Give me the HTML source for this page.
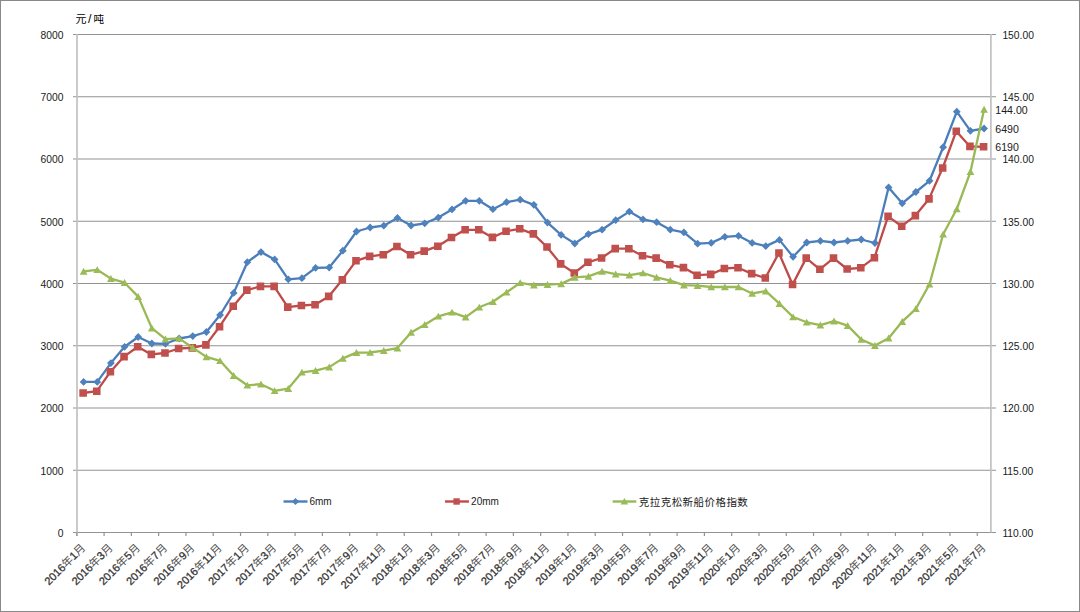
<!DOCTYPE html>
<html><head><meta charset="utf-8"><title>chart</title>
<style>
html,body{margin:0;padding:0;background:#fff;}
body{width:1080px;height:612px;overflow:hidden;}
svg{display:block;}
text{font-family:"Liberation Sans", "Noto Sans CJK SC", sans-serif;}
</style></head><body>
<svg width="1080" height="612" viewBox="0 0 1080 612">
<rect x="0" y="0" width="1080" height="612" fill="#fff"/>

<rect x="0.5" y="0.5" width="1079" height="611" fill="none" stroke="#898989" stroke-width="1"/>
<path d="M73 34.5H996 M73 96.75H996 M73 159H996 M73 221.25H996 M73 283.5H996 M73 345.75H996 M73 408H996 M73 470.25H996 M73 532.5H996" stroke="#939393" stroke-width="1.2" fill="none"/>
<path d="M77 34V536 M990.9 34V532.5" stroke="#c2c2c2" stroke-width="1.7" fill="none"/>
<path d="M76.8 532V536 M104.09 532V536 M131.37 532V536 M158.66 532V536 M185.95 532V536 M213.23 532V536 M240.52 532V536 M267.81 532V536 M295.09 532V536 M322.38 532V536 M349.67 532V536 M376.95 532V536 M404.24 532V536 M431.53 532V536 M458.81 532V536 M486.1 532V536 M513.39 532V536 M540.67 532V536 M567.96 532V536 M595.24 532V536 M622.53 532V536 M649.82 532V536 M677.1 532V536 M704.39 532V536 M731.68 532V536 M758.96 532V536 M786.25 532V536 M813.54 532V536 M840.82 532V536 M868.11 532V536 M895.4 532V536 M922.68 532V536 M949.97 532V536 M977.26 532V536" stroke="#939393" stroke-width="1.2" fill="none"/>
<text x="63.5" y="536.8" font-size="10.3" fill="#1a1a1a" text-anchor="end">0</text>
<text x="63.5" y="474.55" font-size="10.3" fill="#1a1a1a" text-anchor="end">1000</text>
<text x="63.5" y="412.3" font-size="10.3" fill="#1a1a1a" text-anchor="end">2000</text>
<text x="63.5" y="350.05" font-size="10.3" fill="#1a1a1a" text-anchor="end">3000</text>
<text x="63.5" y="287.8" font-size="10.3" fill="#1a1a1a" text-anchor="end">4000</text>
<text x="63.5" y="225.55" font-size="10.3" fill="#1a1a1a" text-anchor="end">5000</text>
<text x="63.5" y="163.3" font-size="10.3" fill="#1a1a1a" text-anchor="end">6000</text>
<text x="63.5" y="101.05" font-size="10.3" fill="#1a1a1a" text-anchor="end">7000</text>
<text x="63.5" y="38.8" font-size="10.3" fill="#1a1a1a" text-anchor="end">8000</text>
<text x="1002.4" y="536.8" font-size="10.3" fill="#1a1a1a">110.00</text>
<text x="1002.4" y="474.55" font-size="10.3" fill="#1a1a1a">115.00</text>
<text x="1002.4" y="412.3" font-size="10.3" fill="#1a1a1a">120.00</text>
<text x="1002.4" y="350.05" font-size="10.3" fill="#1a1a1a">125.00</text>
<text x="1002.4" y="287.8" font-size="10.3" fill="#1a1a1a">130.00</text>
<text x="1002.4" y="225.55" font-size="10.3" fill="#1a1a1a">135.00</text>
<text x="1002.4" y="163.3" font-size="10.3" fill="#1a1a1a">140.00</text>
<text x="1002.4" y="101.05" font-size="10.3" fill="#1a1a1a">145.00</text>
<text x="1002.4" y="38.8" font-size="10.3" fill="#1a1a1a">150.00</text>
<text y="22.5" font-size="11" fill="#000" style="font-family:'Noto Sans CJK SC', 'WenQuanYi Zen Hei', sans-serif"><tspan x="75.6">元</tspan><tspan x="87.9" style="font-family:'Liberation Sans',sans-serif" font-size="12.5">/</tspan><tspan x="93.4" font-size="10.6">吨</tspan></text>
<text x="86.12" y="548.5" font-size="11" fill="#2e2e2e" stroke="#3a3a3a" stroke-width="0.3" text-anchor="end" transform="rotate(-45 86.12 548.5)">2016<tspan stroke="none" fill="#505050">年</tspan>1<tspan stroke="none" fill="#505050">月</tspan></text>
<text x="113.41" y="548.5" font-size="11" fill="#2e2e2e" stroke="#3a3a3a" stroke-width="0.3" text-anchor="end" transform="rotate(-45 113.41 548.5)">2016<tspan stroke="none" fill="#505050">年</tspan>3<tspan stroke="none" fill="#505050">月</tspan></text>
<text x="140.69" y="548.5" font-size="11" fill="#2e2e2e" stroke="#3a3a3a" stroke-width="0.3" text-anchor="end" transform="rotate(-45 140.69 548.5)">2016<tspan stroke="none" fill="#505050">年</tspan>5<tspan stroke="none" fill="#505050">月</tspan></text>
<text x="167.98" y="548.5" font-size="11" fill="#2e2e2e" stroke="#3a3a3a" stroke-width="0.3" text-anchor="end" transform="rotate(-45 167.98 548.5)">2016<tspan stroke="none" fill="#505050">年</tspan>7<tspan stroke="none" fill="#505050">月</tspan></text>
<text x="195.27" y="548.5" font-size="11" fill="#2e2e2e" stroke="#3a3a3a" stroke-width="0.3" text-anchor="end" transform="rotate(-45 195.27 548.5)">2016<tspan stroke="none" fill="#505050">年</tspan>9<tspan stroke="none" fill="#505050">月</tspan></text>
<text x="222.55" y="548.5" font-size="11" fill="#2e2e2e" stroke="#3a3a3a" stroke-width="0.3" text-anchor="end" transform="rotate(-45 222.55 548.5)">2016<tspan stroke="none" fill="#505050">年</tspan>11<tspan stroke="none" fill="#505050">月</tspan></text>
<text x="249.84" y="548.5" font-size="11" fill="#2e2e2e" stroke="#3a3a3a" stroke-width="0.3" text-anchor="end" transform="rotate(-45 249.84 548.5)">2017<tspan stroke="none" fill="#505050">年</tspan>1<tspan stroke="none" fill="#505050">月</tspan></text>
<text x="277.13" y="548.5" font-size="11" fill="#2e2e2e" stroke="#3a3a3a" stroke-width="0.3" text-anchor="end" transform="rotate(-45 277.13 548.5)">2017<tspan stroke="none" fill="#505050">年</tspan>3<tspan stroke="none" fill="#505050">月</tspan></text>
<text x="304.41" y="548.5" font-size="11" fill="#2e2e2e" stroke="#3a3a3a" stroke-width="0.3" text-anchor="end" transform="rotate(-45 304.41 548.5)">2017<tspan stroke="none" fill="#505050">年</tspan>5<tspan stroke="none" fill="#505050">月</tspan></text>
<text x="331.7" y="548.5" font-size="11" fill="#2e2e2e" stroke="#3a3a3a" stroke-width="0.3" text-anchor="end" transform="rotate(-45 331.7 548.5)">2017<tspan stroke="none" fill="#505050">年</tspan>7<tspan stroke="none" fill="#505050">月</tspan></text>
<text x="358.99" y="548.5" font-size="11" fill="#2e2e2e" stroke="#3a3a3a" stroke-width="0.3" text-anchor="end" transform="rotate(-45 358.99 548.5)">2017<tspan stroke="none" fill="#505050">年</tspan>9<tspan stroke="none" fill="#505050">月</tspan></text>
<text x="386.27" y="548.5" font-size="11" fill="#2e2e2e" stroke="#3a3a3a" stroke-width="0.3" text-anchor="end" transform="rotate(-45 386.27 548.5)">2017<tspan stroke="none" fill="#505050">年</tspan>11<tspan stroke="none" fill="#505050">月</tspan></text>
<text x="413.56" y="548.5" font-size="11" fill="#2e2e2e" stroke="#3a3a3a" stroke-width="0.3" text-anchor="end" transform="rotate(-45 413.56 548.5)">2018<tspan stroke="none" fill="#505050">年</tspan>1<tspan stroke="none" fill="#505050">月</tspan></text>
<text x="440.85" y="548.5" font-size="11" fill="#2e2e2e" stroke="#3a3a3a" stroke-width="0.3" text-anchor="end" transform="rotate(-45 440.85 548.5)">2018<tspan stroke="none" fill="#505050">年</tspan>3<tspan stroke="none" fill="#505050">月</tspan></text>
<text x="468.13" y="548.5" font-size="11" fill="#2e2e2e" stroke="#3a3a3a" stroke-width="0.3" text-anchor="end" transform="rotate(-45 468.13 548.5)">2018<tspan stroke="none" fill="#505050">年</tspan>5<tspan stroke="none" fill="#505050">月</tspan></text>
<text x="495.42" y="548.5" font-size="11" fill="#2e2e2e" stroke="#3a3a3a" stroke-width="0.3" text-anchor="end" transform="rotate(-45 495.42 548.5)">2018<tspan stroke="none" fill="#505050">年</tspan>7<tspan stroke="none" fill="#505050">月</tspan></text>
<text x="522.71" y="548.5" font-size="11" fill="#2e2e2e" stroke="#3a3a3a" stroke-width="0.3" text-anchor="end" transform="rotate(-45 522.71 548.5)">2018<tspan stroke="none" fill="#505050">年</tspan>9<tspan stroke="none" fill="#505050">月</tspan></text>
<text x="549.99" y="548.5" font-size="11" fill="#2e2e2e" stroke="#3a3a3a" stroke-width="0.3" text-anchor="end" transform="rotate(-45 549.99 548.5)">2018<tspan stroke="none" fill="#505050">年</tspan>11<tspan stroke="none" fill="#505050">月</tspan></text>
<text x="577.28" y="548.5" font-size="11" fill="#2e2e2e" stroke="#3a3a3a" stroke-width="0.3" text-anchor="end" transform="rotate(-45 577.28 548.5)">2019<tspan stroke="none" fill="#505050">年</tspan>1<tspan stroke="none" fill="#505050">月</tspan></text>
<text x="604.57" y="548.5" font-size="11" fill="#2e2e2e" stroke="#3a3a3a" stroke-width="0.3" text-anchor="end" transform="rotate(-45 604.57 548.5)">2019<tspan stroke="none" fill="#505050">年</tspan>3<tspan stroke="none" fill="#505050">月</tspan></text>
<text x="631.85" y="548.5" font-size="11" fill="#2e2e2e" stroke="#3a3a3a" stroke-width="0.3" text-anchor="end" transform="rotate(-45 631.85 548.5)">2019<tspan stroke="none" fill="#505050">年</tspan>5<tspan stroke="none" fill="#505050">月</tspan></text>
<text x="659.14" y="548.5" font-size="11" fill="#2e2e2e" stroke="#3a3a3a" stroke-width="0.3" text-anchor="end" transform="rotate(-45 659.14 548.5)">2019<tspan stroke="none" fill="#505050">年</tspan>7<tspan stroke="none" fill="#505050">月</tspan></text>
<text x="686.43" y="548.5" font-size="11" fill="#2e2e2e" stroke="#3a3a3a" stroke-width="0.3" text-anchor="end" transform="rotate(-45 686.43 548.5)">2019<tspan stroke="none" fill="#505050">年</tspan>9<tspan stroke="none" fill="#505050">月</tspan></text>
<text x="713.71" y="548.5" font-size="11" fill="#2e2e2e" stroke="#3a3a3a" stroke-width="0.3" text-anchor="end" transform="rotate(-45 713.71 548.5)">2019<tspan stroke="none" fill="#505050">年</tspan>11<tspan stroke="none" fill="#505050">月</tspan></text>
<text x="741" y="548.5" font-size="11" fill="#2e2e2e" stroke="#3a3a3a" stroke-width="0.3" text-anchor="end" transform="rotate(-45 741 548.5)">2020<tspan stroke="none" fill="#505050">年</tspan>1<tspan stroke="none" fill="#505050">月</tspan></text>
<text x="768.29" y="548.5" font-size="11" fill="#2e2e2e" stroke="#3a3a3a" stroke-width="0.3" text-anchor="end" transform="rotate(-45 768.29 548.5)">2020<tspan stroke="none" fill="#505050">年</tspan>3<tspan stroke="none" fill="#505050">月</tspan></text>
<text x="795.57" y="548.5" font-size="11" fill="#2e2e2e" stroke="#3a3a3a" stroke-width="0.3" text-anchor="end" transform="rotate(-45 795.57 548.5)">2020<tspan stroke="none" fill="#505050">年</tspan>5<tspan stroke="none" fill="#505050">月</tspan></text>
<text x="822.86" y="548.5" font-size="11" fill="#2e2e2e" stroke="#3a3a3a" stroke-width="0.3" text-anchor="end" transform="rotate(-45 822.86 548.5)">2020<tspan stroke="none" fill="#505050">年</tspan>7<tspan stroke="none" fill="#505050">月</tspan></text>
<text x="850.15" y="548.5" font-size="11" fill="#2e2e2e" stroke="#3a3a3a" stroke-width="0.3" text-anchor="end" transform="rotate(-45 850.15 548.5)">2020<tspan stroke="none" fill="#505050">年</tspan>9<tspan stroke="none" fill="#505050">月</tspan></text>
<text x="877.43" y="548.5" font-size="11" fill="#2e2e2e" stroke="#3a3a3a" stroke-width="0.3" text-anchor="end" transform="rotate(-45 877.43 548.5)">2020<tspan stroke="none" fill="#505050">年</tspan>11<tspan stroke="none" fill="#505050">月</tspan></text>
<text x="904.72" y="548.5" font-size="11" fill="#2e2e2e" stroke="#3a3a3a" stroke-width="0.3" text-anchor="end" transform="rotate(-45 904.72 548.5)">2021<tspan stroke="none" fill="#505050">年</tspan>1<tspan stroke="none" fill="#505050">月</tspan></text>
<text x="932.01" y="548.5" font-size="11" fill="#2e2e2e" stroke="#3a3a3a" stroke-width="0.3" text-anchor="end" transform="rotate(-45 932.01 548.5)">2021<tspan stroke="none" fill="#505050">年</tspan>3<tspan stroke="none" fill="#505050">月</tspan></text>
<text x="959.29" y="548.5" font-size="11" fill="#2e2e2e" stroke="#3a3a3a" stroke-width="0.3" text-anchor="end" transform="rotate(-45 959.29 548.5)">2021<tspan stroke="none" fill="#505050">年</tspan>5<tspan stroke="none" fill="#505050">月</tspan></text>
<text x="986.58" y="548.5" font-size="11" fill="#2e2e2e" stroke="#3a3a3a" stroke-width="0.3" text-anchor="end" transform="rotate(-45 986.58 548.5)">2021<tspan stroke="none" fill="#505050">年</tspan>7<tspan stroke="none" fill="#505050">月</tspan></text>
<path d="M83.62 381.9 L97.26 381.9 L110.91 363.1 L124.55 346.8 L138.19 337 L151.84 343.5 L165.48 343.8 L179.12 338.5 L192.77 336.1 L206.41 332 L220.05 315 L233.7 292.9 L247.34 262.2 L260.98 252.1 L274.63 259.4 L288.27 279.3 L301.91 278.2 L315.56 267.9 L329.2 267.5 L342.84 250.7 L356.49 231.5 L370.13 227.5 L383.77 225.7 L397.42 218 L411.06 225.5 L424.7 223.3 L438.35 217.6 L451.99 209.4 L465.63 200.8 L479.28 200.8 L492.92 209.2 L506.56 202.2 L520.21 199.7 L533.85 204.8 L547.49 222.6 L561.14 234.9 L574.78 243.5 L588.42 234.1 L602.07 229.7 L615.71 220.2 L629.35 211.6 L643 219.4 L656.64 222.2 L670.28 229.7 L683.93 232.4 L697.57 243.7 L711.21 242.9 L724.86 236.8 L738.5 235.8 L752.14 242.9 L765.79 246.1 L779.43 239.9 L793.07 256.8 L806.72 242.5 L820.36 240.9 L834 242.5 L847.65 240.9 L861.29 239.5 L874.93 243 L888.58 187.5 L902.22 203.3 L915.86 192 L929.51 180.8 L943.15 147.2 L956.79 111.7 L970.44 130.8 L984.08 128.5" stroke="#4a7ebb" stroke-width="2.3" fill="none" stroke-linejoin="round" stroke-linecap="round"/>
<path d="M83.62 378L87.52 381.9L83.62 385.8L79.72 381.9ZM97.26 378L101.16 381.9L97.26 385.8L93.36 381.9ZM110.91 359.2L114.81 363.1L110.91 367L107.01 363.1ZM124.55 342.9L128.45 346.8L124.55 350.7L120.65 346.8ZM138.19 333.1L142.09 337L138.19 340.9L134.29 337ZM151.84 339.6L155.74 343.5L151.84 347.4L147.94 343.5ZM165.48 339.9L169.38 343.8L165.48 347.7L161.58 343.8ZM179.12 334.6L183.02 338.5L179.12 342.4L175.22 338.5ZM192.77 332.2L196.67 336.1L192.77 340L188.87 336.1ZM206.41 328.1L210.31 332L206.41 335.9L202.51 332ZM220.05 311.1L223.95 315L220.05 318.9L216.15 315ZM233.7 289L237.6 292.9L233.7 296.8L229.8 292.9ZM247.34 258.3L251.24 262.2L247.34 266.1L243.44 262.2ZM260.98 248.2L264.88 252.1L260.98 256L257.08 252.1ZM274.63 255.5L278.53 259.4L274.63 263.3L270.73 259.4ZM288.27 275.4L292.17 279.3L288.27 283.2L284.37 279.3ZM301.91 274.3L305.81 278.2L301.91 282.1L298.01 278.2ZM315.56 264L319.46 267.9L315.56 271.8L311.66 267.9ZM329.2 263.6L333.1 267.5L329.2 271.4L325.3 267.5ZM342.84 246.8L346.74 250.7L342.84 254.6L338.94 250.7ZM356.49 227.6L360.39 231.5L356.49 235.4L352.59 231.5ZM370.13 223.6L374.03 227.5L370.13 231.4L366.23 227.5ZM383.77 221.8L387.67 225.7L383.77 229.6L379.87 225.7ZM397.42 214.1L401.32 218L397.42 221.9L393.52 218ZM411.06 221.6L414.96 225.5L411.06 229.4L407.16 225.5ZM424.7 219.4L428.6 223.3L424.7 227.2L420.8 223.3ZM438.35 213.7L442.25 217.6L438.35 221.5L434.45 217.6ZM451.99 205.5L455.89 209.4L451.99 213.3L448.09 209.4ZM465.63 196.9L469.53 200.8L465.63 204.7L461.73 200.8ZM479.28 196.9L483.18 200.8L479.28 204.7L475.38 200.8ZM492.92 205.3L496.82 209.2L492.92 213.1L489.02 209.2ZM506.56 198.3L510.46 202.2L506.56 206.1L502.66 202.2ZM520.21 195.8L524.11 199.7L520.21 203.6L516.31 199.7ZM533.85 200.9L537.75 204.8L533.85 208.7L529.95 204.8ZM547.49 218.7L551.39 222.6L547.49 226.5L543.59 222.6ZM561.14 231L565.04 234.9L561.14 238.8L557.24 234.9ZM574.78 239.6L578.68 243.5L574.78 247.4L570.88 243.5ZM588.42 230.2L592.32 234.1L588.42 238L584.52 234.1ZM602.07 225.8L605.97 229.7L602.07 233.6L598.17 229.7ZM615.71 216.3L619.61 220.2L615.71 224.1L611.81 220.2ZM629.35 207.7L633.25 211.6L629.35 215.5L625.45 211.6ZM643 215.5L646.9 219.4L643 223.3L639.1 219.4ZM656.64 218.3L660.54 222.2L656.64 226.1L652.74 222.2ZM670.28 225.8L674.18 229.7L670.28 233.6L666.38 229.7ZM683.93 228.5L687.83 232.4L683.93 236.3L680.03 232.4ZM697.57 239.8L701.47 243.7L697.57 247.6L693.67 243.7ZM711.21 239L715.11 242.9L711.21 246.8L707.31 242.9ZM724.86 232.9L728.76 236.8L724.86 240.7L720.96 236.8ZM738.5 231.9L742.4 235.8L738.5 239.7L734.6 235.8ZM752.14 239L756.04 242.9L752.14 246.8L748.24 242.9ZM765.79 242.2L769.69 246.1L765.79 250L761.89 246.1ZM779.43 236L783.33 239.9L779.43 243.8L775.53 239.9ZM793.07 252.9L796.97 256.8L793.07 260.7L789.17 256.8ZM806.72 238.6L810.62 242.5L806.72 246.4L802.82 242.5ZM820.36 237L824.26 240.9L820.36 244.8L816.46 240.9ZM834 238.6L837.9 242.5L834 246.4L830.1 242.5ZM847.65 237L851.55 240.9L847.65 244.8L843.75 240.9ZM861.29 235.6L865.19 239.5L861.29 243.4L857.39 239.5ZM874.93 239.1L878.83 243L874.93 246.9L871.03 243ZM888.58 183.6L892.48 187.5L888.58 191.4L884.68 187.5ZM902.22 199.4L906.12 203.3L902.22 207.2L898.32 203.3ZM915.86 188.1L919.76 192L915.86 195.9L911.96 192ZM929.51 176.9L933.41 180.8L929.51 184.7L925.61 180.8ZM943.15 143.3L947.05 147.2L943.15 151.1L939.25 147.2ZM956.79 107.8L960.69 111.7L956.79 115.6L952.89 111.7ZM970.44 126.9L974.34 130.8L970.44 134.7L966.54 130.8ZM984.08 124.6L987.98 128.5L984.08 132.4L980.18 128.5Z" fill="#4f81bd"/>
<path d="M83.12 393 L96.76 391.2 L110.41 371.8 L124.05 356.6 L137.69 346.8 L151.34 354.4 L164.98 353 L178.62 348.5 L192.27 347.9 L205.91 344.9 L219.55 326.7 L233.2 306.2 L246.84 290.1 L260.48 286.4 L274.13 286.4 L287.77 307.1 L301.41 305.5 L315.06 304.7 L328.7 296.4 L342.34 279.7 L355.99 260.8 L369.63 256.4 L383.27 254.7 L396.92 246.5 L410.56 254.8 L424.2 251.1 L437.85 246.2 L451.49 237.5 L465.13 229.8 L478.78 229.8 L492.42 237.4 L506.06 231.3 L519.71 228.8 L533.35 233.9 L546.99 247 L560.64 263.9 L574.28 273 L587.92 262.3 L601.57 258 L615.21 248.6 L628.85 248.7 L642.5 255.7 L656.14 258.1 L669.78 264.8 L683.43 267.6 L697.07 275.2 L710.71 274.4 L724.36 268.5 L738 267.7 L751.64 273.6 L765.29 278 L778.93 253 L792.57 284.5 L806.22 258.1 L819.86 269.3 L833.5 258.1 L847.15 269 L860.79 267.8 L874.43 257.7 L888.08 216.4 L901.72 226.2 L915.36 215.6 L929.01 198.9 L942.65 168 L956.29 131.2 L969.94 146.4 L983.58 146.8" stroke="#be4b48" stroke-width="2.3" fill="none" stroke-linejoin="round" stroke-linecap="round"/>
<path d="M79.32 389.2h7.6v7.6h-7.6ZM92.96 387.4h7.6v7.6h-7.6ZM106.61 368h7.6v7.6h-7.6ZM120.25 352.8h7.6v7.6h-7.6ZM133.89 343h7.6v7.6h-7.6ZM147.54 350.6h7.6v7.6h-7.6ZM161.18 349.2h7.6v7.6h-7.6ZM174.82 344.7h7.6v7.6h-7.6ZM188.47 344.1h7.6v7.6h-7.6ZM202.11 341.1h7.6v7.6h-7.6ZM215.75 322.9h7.6v7.6h-7.6ZM229.4 302.4h7.6v7.6h-7.6ZM243.04 286.3h7.6v7.6h-7.6ZM256.68 282.6h7.6v7.6h-7.6ZM270.33 282.6h7.6v7.6h-7.6ZM283.97 303.3h7.6v7.6h-7.6ZM297.61 301.7h7.6v7.6h-7.6ZM311.26 300.9h7.6v7.6h-7.6ZM324.9 292.6h7.6v7.6h-7.6ZM338.54 275.9h7.6v7.6h-7.6ZM352.19 257h7.6v7.6h-7.6ZM365.83 252.6h7.6v7.6h-7.6ZM379.47 250.9h7.6v7.6h-7.6ZM393.12 242.7h7.6v7.6h-7.6ZM406.76 251h7.6v7.6h-7.6ZM420.4 247.3h7.6v7.6h-7.6ZM434.05 242.4h7.6v7.6h-7.6ZM447.69 233.7h7.6v7.6h-7.6ZM461.33 226h7.6v7.6h-7.6ZM474.98 226h7.6v7.6h-7.6ZM488.62 233.6h7.6v7.6h-7.6ZM502.26 227.5h7.6v7.6h-7.6ZM515.91 225h7.6v7.6h-7.6ZM529.55 230.1h7.6v7.6h-7.6ZM543.19 243.2h7.6v7.6h-7.6ZM556.84 260.1h7.6v7.6h-7.6ZM570.48 269.2h7.6v7.6h-7.6ZM584.12 258.5h7.6v7.6h-7.6ZM597.77 254.2h7.6v7.6h-7.6ZM611.41 244.8h7.6v7.6h-7.6ZM625.05 244.9h7.6v7.6h-7.6ZM638.7 251.9h7.6v7.6h-7.6ZM652.34 254.3h7.6v7.6h-7.6ZM665.98 261h7.6v7.6h-7.6ZM679.63 263.8h7.6v7.6h-7.6ZM693.27 271.4h7.6v7.6h-7.6ZM706.91 270.6h7.6v7.6h-7.6ZM720.56 264.7h7.6v7.6h-7.6ZM734.2 263.9h7.6v7.6h-7.6ZM747.84 269.8h7.6v7.6h-7.6ZM761.49 274.2h7.6v7.6h-7.6ZM775.13 249.2h7.6v7.6h-7.6ZM788.77 280.7h7.6v7.6h-7.6ZM802.42 254.3h7.6v7.6h-7.6ZM816.06 265.5h7.6v7.6h-7.6ZM829.7 254.3h7.6v7.6h-7.6ZM843.35 265.2h7.6v7.6h-7.6ZM856.99 264h7.6v7.6h-7.6ZM870.63 253.9h7.6v7.6h-7.6ZM884.28 212.6h7.6v7.6h-7.6ZM897.92 222.4h7.6v7.6h-7.6ZM911.56 211.8h7.6v7.6h-7.6ZM925.21 195.1h7.6v7.6h-7.6ZM938.85 164.2h7.6v7.6h-7.6ZM952.49 127.4h7.6v7.6h-7.6ZM966.14 142.6h7.6v7.6h-7.6ZM979.78 143h7.6v7.6h-7.6Z" fill="#c0504d"/>
<path d="M83.62 271.4 L97.26 269.8 L110.91 278.6 L124.55 282.7 L138.19 296.6 L151.84 328.1 L165.48 339.1 L179.12 338.4 L192.77 347.7 L206.41 356.9 L220.05 360.8 L233.7 375.7 L247.34 385.3 L260.98 384.2 L274.63 390.8 L288.27 388.6 L301.91 372.3 L315.56 370.7 L329.2 367.1 L342.84 358.4 L356.49 352.6 L370.13 352.5 L383.77 350.6 L397.42 348.1 L411.06 332.4 L424.7 324.7 L438.35 316.3 L451.99 312.3 L465.63 317.1 L479.28 307.3 L492.92 301.8 L506.56 292.3 L520.21 282.8 L533.85 285.2 L547.49 284.7 L561.14 283.9 L574.78 277.4 L588.42 276.4 L602.07 271.4 L615.71 274.1 L629.35 275.1 L643 273 L656.64 277.4 L670.28 280.7 L683.93 285.1 L697.57 285.7 L711.21 287 L724.86 287 L738.5 287 L752.14 293.5 L765.79 291.1 L779.43 303.6 L793.07 317 L806.72 322.3 L820.36 325.1 L834 321.1 L847.65 325.6 L861.29 339.5 L874.93 345.6 L888.58 338.2 L902.22 321.6 L915.86 308.8 L929.51 284.3 L943.15 234.3 L956.79 209 L970.44 171.8 L984.08 109.4" stroke="#98b954" stroke-width="2.3" fill="none" stroke-linejoin="round" stroke-linecap="round"/>
<path d="M83.62 267.8L87.52 274.7L79.72 274.7ZM97.26 266.2L101.16 273.1L93.36 273.1ZM110.91 275L114.81 281.9L107.01 281.9ZM124.55 279.1L128.45 286L120.65 286ZM138.19 293L142.09 299.9L134.29 299.9ZM151.84 324.5L155.74 331.4L147.94 331.4ZM165.48 335.5L169.38 342.4L161.58 342.4ZM179.12 334.8L183.02 341.7L175.22 341.7ZM192.77 344.1L196.67 351L188.87 351ZM206.41 353.3L210.31 360.2L202.51 360.2ZM220.05 357.2L223.95 364.1L216.15 364.1ZM233.7 372.1L237.6 379L229.8 379ZM247.34 381.7L251.24 388.6L243.44 388.6ZM260.98 380.6L264.88 387.5L257.08 387.5ZM274.63 387.2L278.53 394.1L270.73 394.1ZM288.27 385L292.17 391.9L284.37 391.9ZM301.91 368.7L305.81 375.6L298.01 375.6ZM315.56 367.1L319.46 374L311.66 374ZM329.2 363.5L333.1 370.4L325.3 370.4ZM342.84 354.8L346.74 361.7L338.94 361.7ZM356.49 349L360.39 355.9L352.59 355.9ZM370.13 348.9L374.03 355.8L366.23 355.8ZM383.77 347L387.67 353.9L379.87 353.9ZM397.42 344.5L401.32 351.4L393.52 351.4ZM411.06 328.8L414.96 335.7L407.16 335.7ZM424.7 321.1L428.6 328L420.8 328ZM438.35 312.7L442.25 319.6L434.45 319.6ZM451.99 308.7L455.89 315.6L448.09 315.6ZM465.63 313.5L469.53 320.4L461.73 320.4ZM479.28 303.7L483.18 310.6L475.38 310.6ZM492.92 298.2L496.82 305.1L489.02 305.1ZM506.56 288.7L510.46 295.6L502.66 295.6ZM520.21 279.2L524.11 286.1L516.31 286.1ZM533.85 281.6L537.75 288.5L529.95 288.5ZM547.49 281.1L551.39 288L543.59 288ZM561.14 280.3L565.04 287.2L557.24 287.2ZM574.78 273.8L578.68 280.7L570.88 280.7ZM588.42 272.8L592.32 279.7L584.52 279.7ZM602.07 267.8L605.97 274.7L598.17 274.7ZM615.71 270.5L619.61 277.4L611.81 277.4ZM629.35 271.5L633.25 278.4L625.45 278.4ZM643 269.4L646.9 276.3L639.1 276.3ZM656.64 273.8L660.54 280.7L652.74 280.7ZM670.28 277.1L674.18 284L666.38 284ZM683.93 281.5L687.83 288.4L680.03 288.4ZM697.57 282.1L701.47 289L693.67 289ZM711.21 283.4L715.11 290.3L707.31 290.3ZM724.86 283.4L728.76 290.3L720.96 290.3ZM738.5 283.4L742.4 290.3L734.6 290.3ZM752.14 289.9L756.04 296.8L748.24 296.8ZM765.79 287.5L769.69 294.4L761.89 294.4ZM779.43 300L783.33 306.9L775.53 306.9ZM793.07 313.4L796.97 320.3L789.17 320.3ZM806.72 318.7L810.62 325.6L802.82 325.6ZM820.36 321.5L824.26 328.4L816.46 328.4ZM834 317.5L837.9 324.4L830.1 324.4ZM847.65 322L851.55 328.9L843.75 328.9ZM861.29 335.9L865.19 342.8L857.39 342.8ZM874.93 342L878.83 348.9L871.03 348.9ZM888.58 334.6L892.48 341.5L884.68 341.5ZM902.22 318L906.12 324.9L898.32 324.9ZM915.86 305.2L919.76 312.1L911.96 312.1ZM929.51 280.7L933.41 287.6L925.61 287.6ZM943.15 230.7L947.05 237.6L939.25 237.6ZM956.79 205.4L960.69 212.3L952.89 212.3ZM970.44 168.2L974.34 175.1L966.54 175.1ZM984.08 105.8L987.98 112.7L980.18 112.7Z" fill="#9bbb59"/>
<text x="995.3" y="113.8" font-size="10.6" fill="#1a1a1a">144.00</text>
<text x="995.3" y="133" font-size="10.6" fill="#1a1a1a">6490</text>
<text x="995.3" y="151.3" font-size="10.6" fill="#1a1a1a">6190</text>
<path d="M283.5 501.5H307.5" stroke="#4a7ebb" stroke-width="2.4"/>
<path d="M295.5 497.9L299.1 501.5L295.5 505.1L291.9 501.5Z" fill="#4f81bd"/>
<text x="309.4" y="505" font-size="10" fill="#1a1a1a">6mm</text>
<path d="M445 501.5H469" stroke="#be4b48" stroke-width="2.4"/>
<path d="M453.4 498.3h6.4v6.4h-6.4Z" fill="#c0504d"/>
<text x="471.1" y="505" font-size="10" fill="#1a1a1a">20mm</text>
<path d="M612.6 501.5H636.3" stroke="#98b954" stroke-width="2.4"/>
<path d="M624.4 498L628.2 504.6L620.6 504.6Z" fill="#9bbb59"/>
<text x="638.8" y="505.6" font-size="10.5" letter-spacing="0.45" fill="#1a1a1a" style="font-family:'Noto Sans CJK SC', 'WenQuanYi Zen Hei', sans-serif">克拉克松新船价格指数</text>
</svg></body></html>
